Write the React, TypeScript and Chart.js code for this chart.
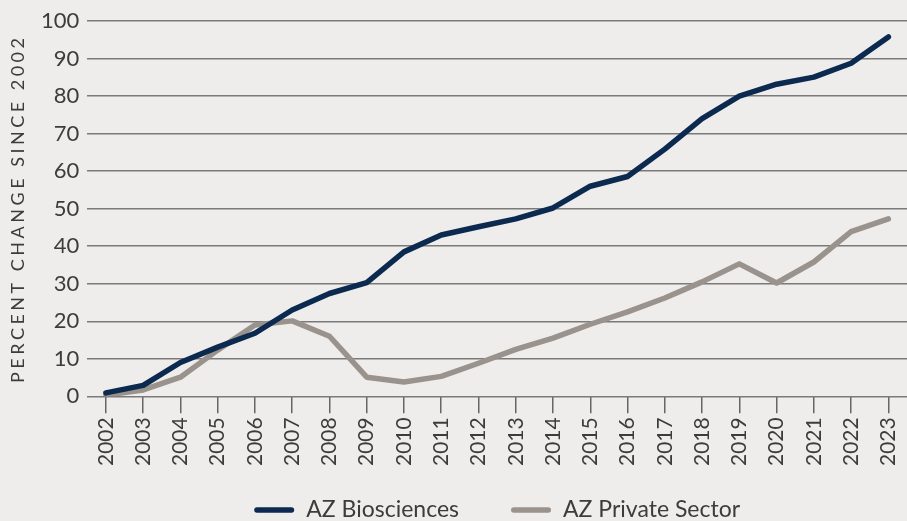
import React, { useEffect, useRef } from "react";
import { Chart, registerables } from "chart.js";

Chart.register(...registerables);

const years = ["2002","2003","2004","2005","2006","2007","2008","2009","2010","2011","2012","2013","2014","2015","2016","2017","2018","2019","2020","2021","2022","2023"];
const azBiosciences = [0.9, 2.9, 9.0, 13.1, 16.8, 23.0, 27.4, 30.3, 38.5, 43.0, 45.2, 47.3, 50.2, 56.0, 58.6, 65.9, 74.0, 80.0, 83.2, 85.1, 88.8, 95.8];
const azPrivateSector = [0.3, 1.7, 5.1, 12.3, 19.0, 20.1, 16.0, 5.1, 3.8, 5.3, 8.8, 12.5, 15.5, 19.2, 22.5, 26.2, 30.5, 35.3, 30.2, 35.8, 43.9, 47.3];
const yTitle = "PERCENT CHANGE SINCE 2002";

const BLUE = "#0c2a50";
const GRAY = "#9a938d";
const TEXT = "#3c3c3c";
const FONT = "Lato";

const yTitlePlugin = {
  id: "yTitlePlugin",
  afterDraw(chart: any) {
    const ctx = chart.ctx;
    const area = chart.chartArea;
    ctx.save();
    ctx.translate(18, (area.top + area.bottom) / 2);
    ctx.rotate(-Math.PI / 2);
    ctx.font = `18px ${FONT}`;
    (ctx as any).letterSpacing = "3.5px";
    ctx.fillStyle = TEXT;
    ctx.textAlign = "center";
    ctx.textBaseline = "middle";
    ctx.fillText(yTitle, 0, 0);
    ctx.restore();
  },
};

const legendPlugin = {
  id: "customLegend",
  afterDraw(chart: any) {
    const ctx = chart.ctx;
    const area = chart.chartArea;
    const ds = chart.data.datasets;
    const lineLen = 40;
    const gapText = 12;
    const gapItem = 52;
    ctx.save();
    ctx.font = `23px ${FONT}`;
    const widths = ds.map((d: any) => ctx.measureText(d.label).width);
    let total = 0;
    widths.forEach((w: number, i: number) => {
      total += lineLen + gapText + w + (i < widths.length - 1 ? gapItem : 0);
    });
    let x = (area.left + area.right) / 2 - total / 2;
    const y = 510;
    ds.forEach((d: any, i: number) => {
      ctx.strokeStyle = d.borderColor;
      ctx.lineWidth = 5.5;
      ctx.lineCap = "round";
      ctx.beginPath();
      ctx.moveTo(x + 2.75, y);
      ctx.lineTo(x + lineLen - 2.75, y);
      ctx.stroke();
      x += lineLen + gapText;
      ctx.fillStyle = TEXT;
      ctx.textAlign = "left";
      ctx.textBaseline = "middle";
      ctx.fillText(d.label, x, y);
      x += widths[i] + gapItem;
    });
    ctx.restore();
  },
};

export default function App() {
  const ref = useRef<HTMLCanvasElement>(null);
  useEffect(() => {
    document.body.style.margin = "0";
    const chart = new Chart(ref.current!, {
      type: "line",
      data: {
        labels: years,
        datasets: [
          {
            label: "AZ Biosciences",
            data: azBiosciences,
            borderColor: BLUE,
            backgroundColor: BLUE,
            borderWidth: 5.5,
            pointRadius: 0,
            borderCapStyle: "round",
            borderJoinStyle: "round",
            tension: 0,
          },
          {
            label: "AZ Private Sector",
            data: azPrivateSector,
            borderColor: GRAY,
            backgroundColor: GRAY,
            borderWidth: 5.5,
            pointRadius: 0,
            borderCapStyle: "round",
            borderJoinStyle: "round",
            tension: 0,
          },
        ],
      },
      options: {
        animation: false,
        responsive: false,
        maintainAspectRatio: false,
        layout: { padding: { left: 33, top: 13, right: 0, bottom: 51 } },
        plugins: {
          tooltip: { enabled: false },
          legend: { display: false },
        },
        scales: {
          x: {
            offset: true,
            afterFit: (scale: any) => {
              scale.paddingRight = 0;
            },
            grid: {
              offset: false,
              drawOnChartArea: false,
              drawTicks: true,
              tickLength: 17,
              color: "#666",
              lineWidth: 1.5,
            },
            border: { display: false },
            ticks: {
              font: { family: FONT, size: 21 },
              color: TEXT,
              minRotation: 90,
              maxRotation: 90,
              autoSkip: false,
              padding: 4,
            },
          },
          y: {
            min: 0,
            max: 100,
            ticks: {
              stepSize: 10,
              font: { family: FONT, size: 22 },
              color: TEXT,
              padding: 8,
            },
            grid: {
              color: "#7a7a7a",
              lineWidth: 1.5,
              drawTicks: false,
            },
            border: { display: false },
          },
        },
      },
      plugins: [yTitlePlugin, legendPlugin],
    });
    return () => chart.destroy();
  }, []);
  return (
    <div style={{ width: 907, height: 521, background: "#eeedeb" }}>
      <canvas ref={ref} width={907} height={521} style={{ display: "block" }} />
    </div>
  );
}
